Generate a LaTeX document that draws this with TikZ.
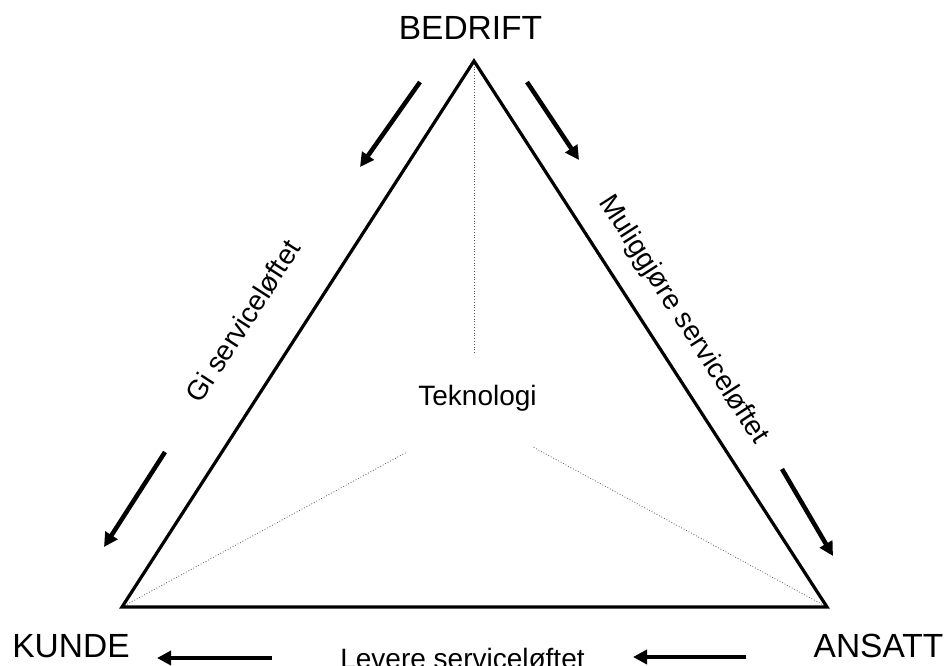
\documentclass[tikz,border=0pt]{standalone}
\usepackage{fontspec}
\setmainfont{Liberation Sans}
\usetikzlibrary{arrows.meta}
\begin{document}
\begin{tikzpicture}[x=1pt,y=-1pt,
  bigtxt/.style={font=\fontsize{33.5}{40}\selectfont, inner sep=0pt, anchor=base},
  smalltxt/.style={font=\fontsize{28}{34}\selectfont, inner sep=0pt},
  side/.style={line width=3.2pt, line join=miter},
  flow/.style={line width=4.5pt, -{Triangle[length=14pt,width=14pt]}},
  guide/.style={line width=0.8pt, dotted, gray!70!black}]
\useasboundingbox (0,0) rectangle (948,666);
% corners
\coordinate (A) at (474,61);
\coordinate (L) at (122,607);
\coordinate (R) at (827,607);
% guide ends
\coordinate (gV) at (474,353);
\coordinate (gL) at (407,452);
\coordinate (gR) at (533,447);
% labels
\node[bigtxt] (bedrift) at (470.5,40) {BEDRIFT};
\node[bigtxt] (kunde) at (71,657) {KUNDE};
\node[bigtxt] (ansatt) at (878.5,657) {ANSATT};
\node[smalltxt, anchor=base] (tek) at (477.5,405) {Teknologi};
\node[smalltxt, anchor=base] (levere) at (462.5,668) {Levere serviceløftet};
\node[smalltxt, rotate=57.2] (gi) at (243,321) {Gi serviceløftet};
\node[smalltxt, rotate=-57.2] (mul) at (683,320) {Muliggjøre serviceløftet};
% guides
\draw[guide] (A) -- (gV);
\draw[guide] (L) -- (gL);
\draw[guide] (R) -- (gR);
% triangle
\draw[side] (A) -- (L) -- (R) -- cycle;
% arrow ends
\coordinate (a1s) at (420,82);  \coordinate (a1e) at (360,167);
\coordinate (a2s) at (165,452); \coordinate (a2e) at (104,547);
\coordinate (a3s) at (527,82);  \coordinate (a3e) at (579,160);
\coordinate (a4s) at (782,469); \coordinate (a4e) at (833,556);
\coordinate (a5s) at (272,658); \coordinate (a5e) at (157,658);
\coordinate (a6s) at (746,657); \coordinate (a6e) at (633,657);
\draw[flow] (a1s) -- (a1e);
\draw[flow] (a2s) -- (a2e);
\draw[flow] (a3s) -- (a3e);
\draw[flow] (a4s) -- (a4e);
\draw[flow] (a5s) -- (a5e);
\draw[flow] (a6s) -- (a6e);
\end{tikzpicture}
\end{document}
